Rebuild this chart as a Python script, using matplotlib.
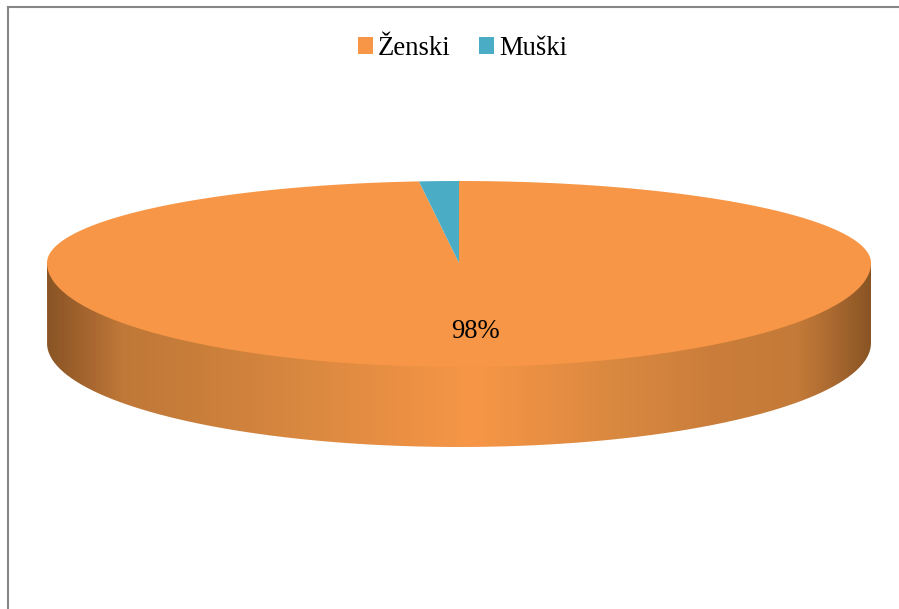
import matplotlib
matplotlib.use('Agg')
import matplotlib.pyplot as plt
import numpy as np
from matplotlib.colors import LinearSegmentedColormap
from matplotlib.lines import Line2D
from matplotlib.patches import Patch, PathPatch
from matplotlib.path import Path

labels = ['Ženski', 'Muški']
shares = [98.45, 1.55]
shown_pct = ['98%', '']
colors = ['#f79646', '#4bacc6']

plt.rcParams['font.family'] = ['Liberation Serif', 'DejaVu Serif']

W, H = 899, 609
cx, cy = 459, 263      # apex of the pie, pixels
rx = 412               # half width
ry_back = 82           # back half is flatter than the front, 3d look
ry_front = 104
depth = 80 / ry_front  # wall height, in y units of the axes

fig = plt.figure(figsize=(W / 100, H / 100), dpi=100, facecolor='white')
ax = fig.add_axes([0, 0, 1, 1])

# one x unit is rx pixels, one y unit is ry_front pixels
wedges, texts = ax.pie(shares, colors=colors, startangle=90, counterclock=False,
                       radius=1, center=(0, 0), wedgeprops={'linewidth': 0})
ax.set_aspect('auto')


def squashed_wedge(theta1, theta2):
    # pie only draws plain ellipses, so redo the outline with the two radii
    t = np.radians(np.linspace(theta1, theta2, 600))
    y = np.sin(t)
    y = np.where(y > 0, y * ry_back / ry_front, y)
    return np.column_stack([np.r_[0, np.cos(t)], np.r_[0, y]])


for w, c in zip(wedges, colors):
    w.set_visible(False)
    ax.fill(*squashed_wedge(w.theta1, w.theta2).T, color=c, lw=0, zorder=2)

ax.text(16 / rx, -68 / ry_front, shown_pct[0], fontsize=19.2, ha='center',
        va='center', color='black', zorder=3)

# side wall, gradient clipped to the front half of the ellipse
t = np.linspace(np.pi, 2 * np.pi, 300)
verts = np.column_stack([np.cos(t), np.sin(t) - depth])
verts = np.vstack([[[-1, 0]], verts, [[1, 0]], [[-1, 0]]])
clip = PathPatch(Path(verts), transform=ax.transData, facecolor='none', edgecolor='none')
ax.add_patch(clip)

shade = LinearSegmentedColormap.from_list('wall', [
    (0.000, '#8a5525'), (0.046, '#a5652f'), (0.089, '#c07838'), (0.186, '#c97e3a'),
    (0.307, '#d98840'), (0.519, '#f79646'), (0.695, '#d98840'),
    (0.805, '#cb7e3b'), (0.913, '#c47a38'), (0.950, '#ae6c31'), (1.000, '#8a5525')])
img = ax.imshow(np.linspace(0, 1, 824)[None, :], cmap=shade, aspect='auto',
                extent=(-1, 1, -1 - depth, 0), zorder=1)
img.set_clip_path(clip)

ax.set_xlim(-cx / rx, (W - cx) / rx)
ax.set_ylim((cy - H) / ry_front, cy / ry_front)
ax.axis('off')

handles = [Patch(color=c, lw=0) for c in colors]
ax.legend(handles, labels, loc='center', bbox_to_anchor=(462.5 / W, 1 - 48.5 / H),
          bbox_transform=fig.transFigure, ncol=2, frameon=False, fontsize=19.2,
          handlelength=0.56, handleheight=0.56, handletextpad=0.2, columnspacing=1.05)

# chart frame, cut off at the right and bottom of the picture
frame = '#868686'
fig.add_artist(Line2D([8 / W, 8 / W], [0, 1 - 7 / H], color=frame, lw=1.5))
fig.add_artist(Line2D([8 / W, 1], [1 - 7 / H, 1 - 7 / H], color=frame, lw=1.5))

fig.savefig('out.png', dpi=100)
